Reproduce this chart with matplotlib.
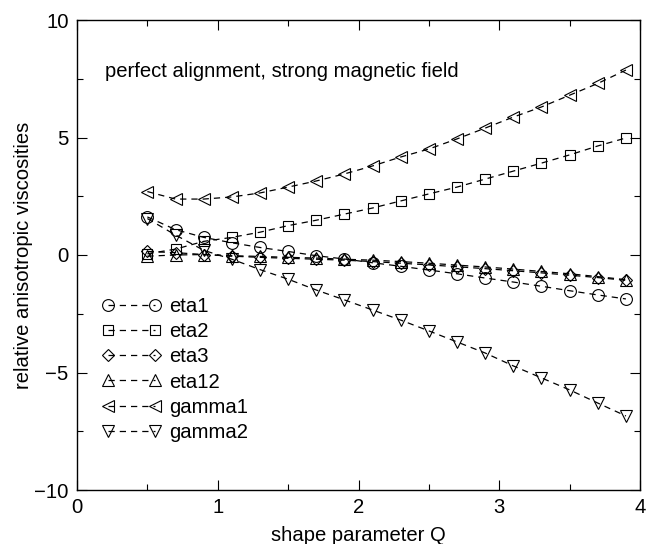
import matplotlib
matplotlib.use("Agg")
import matplotlib.pyplot as plt
from matplotlib.ticker import MultipleLocator

plt.rcParams['font.family'] = ['Liberation Sans', 'DejaVu Sans']

Q = [0.5, 0.7, 0.9, 1.1, 1.3, 1.5, 1.7, 1.9, 2.1, 2.3, 2.5, 2.7, 2.9, 3.1, 3.3, 3.5, 3.7, 3.9]
eta1 = [1.62, 1.08, 0.75, 0.52, 0.32, 0.15, -0.03, -0.17, -0.33, -0.48, -0.64, -0.80, -0.98, -1.15, -1.33, -1.52, -1.70, -1.87]
eta2 = [0.05, 0.25, 0.58, 0.75, 0.97, 1.25, 1.48, 1.74, 2.00, 2.30, 2.60, 2.89, 3.23, 3.57, 3.91, 4.26, 4.64, 4.98]
eta3 = [0.15, 0.10, 0.02, -0.05, -0.10, -0.14, -0.18, -0.22, -0.28, -0.35, -0.42, -0.50, -0.58, -0.67, -0.76, -0.86, -0.96, -1.08]
eta12 = [-0.05, 0.00, 0.02, -0.03, -0.06, -0.10, -0.13, -0.18, -0.22, -0.28, -0.35, -0.43, -0.51, -0.60, -0.70, -0.80, -0.92, -1.05]
gamma1 = [2.70, 2.38, 2.38, 2.47, 2.64, 2.89, 3.15, 3.45, 3.79, 4.17, 4.51, 4.94, 5.40, 5.87, 6.30, 6.80, 7.30, 7.87]
gamma2 = [1.55, 0.85, 0.20, -0.18, -0.62, -1.03, -1.49, -1.91, -2.34, -2.77, -3.23, -3.70, -4.17, -4.72, -5.23, -5.74, -6.30, -6.85]

series = [("eta1", eta1, "o"), ("eta2", eta2, "s"), ("eta3", eta3, "D"),
          ("eta12", eta12, "^"), ("gamma1", gamma1, "<"), ("gamma2", gamma2, "v")]
msizes = {"o": 8.5, "s": 7.5, "D": 6.0, "^": 8.5, "<": 8.5, "v": 8.5}

fig = plt.figure(figsize=(6.46, 5.44), dpi=100)
ax = fig.add_axes([77/646, 1 - 490/544, (640-77)/646, (490-20)/544])

for name, vals, m in series:
    ax.plot(Q, vals, color='black', lw=0.9, dashes=(5, 4), marker=m,
            ms=msizes[m], mfc='none', mec='black', mew=0.8, label=name)

ax.set_xlim(0, 4)
ax.set_ylim(-10, 10)
ax.xaxis.set_major_locator(MultipleLocator(1))
ax.xaxis.set_minor_locator(MultipleLocator(0.5))
ax.yaxis.set_major_locator(MultipleLocator(5))
ax.yaxis.set_minor_locator(MultipleLocator(2.5))
ax.tick_params(which='both', direction='in', top=True, right=True, labelsize=14.6, width=0.8)
ax.tick_params(which='major', length=7, pad=6)
ax.tick_params(which='minor', length=4)
for s in ax.spines.values():
    s.set_linewidth(1.0)

ax.set_xlabel("shape parameter Q", fontsize=14.6, labelpad=6)
ax.set_ylabel("relative anisotropic viscosities", fontsize=14.6, labelpad=1)

ax.text(0.2, 7.8, "perfect alignment, strong magnetic field", fontsize=14.6, va='center', ha='left')

leg = ax.legend(loc='upper left', bbox_to_anchor=(0.045, 0.41), frameon=False, numpoints=2,
                fontsize=14.6, handlelength=2.9, handletextpad=0.4, labelspacing=0.3,
                borderpad=0, borderaxespad=0)

fig.savefig("out.png", dpi=100)
